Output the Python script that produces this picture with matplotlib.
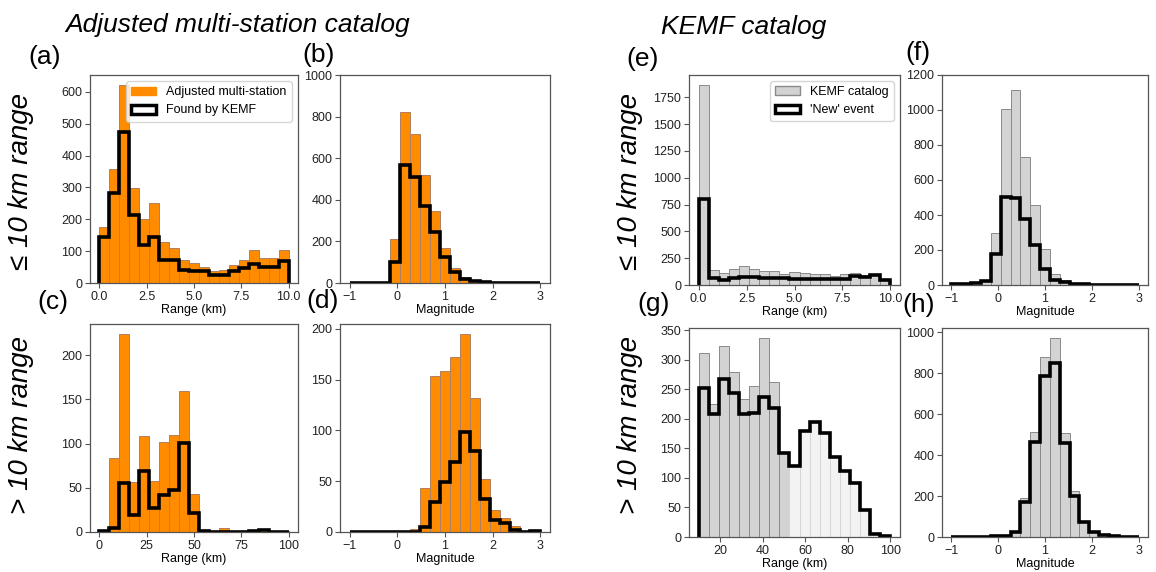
import numpy as np
import matplotlib.pyplot as plt
from matplotlib.patches import Patch
from matplotlib.ticker import MultipleLocator

plt.rcParams['font.family'] = ['Liberation Sans', 'DejaVu Sans']
plt.rcParams['font.size'] = 9

W, H = 1156, 572

# bin edges (19 bins each)
near_range_edges = np.linspace(0, 10, 20)
far_range_edges = np.linspace(0, 100, 20)
kemf_far_range_edges = np.linspace(10, 100, 20)
mag_edges = np.linspace(-1, 3, 20)

# adjusted multi-station catalog, <= 10 km
adj_near_range = [175, 357, 622, 297, 202, 250, 128, 110, 72, 62, 50, 37, 40, 58, 73, 105, 77, 78, 103]
adj_near_range_found = [145, 283, 473, 215, 118, 143, 72, 72, 40, 38, 38, 25, 25, 38, 48, 60, 50, 50, 70]
adj_near_mag = [0, 0, 0, 0, 210, 820, 718, 520, 345, 170, 70, 30, 12, 5, 3, 2, 1, 1, 0]
adj_near_mag_found = [0, 0, 0, 0, 100, 565, 512, 370, 243, 125, 55, 20, 8, 3, 2, 1, 1, 0, 0]

# adjusted multi-station catalog, > 10 km
adj_far_range = [1, 84, 224, 56, 108, 58, 102, 110, 159, 43, 1, 0, 4, 1, 0, 1, 2, 1, 1]
adj_far_range_found = [1, 4, 55, 19, 69, 27, 42, 48, 101, 21, 1, 0, 0, 0, 0, 1, 2, 0, 0]
adj_far_mag = [0, 0, 0, 0, 0, 0, 3, 43, 154, 158, 172, 195, 132, 52, 22, 14, 6, 1, 1]
adj_far_mag_found = [0, 0, 0, 0, 0, 0, 0, 5, 30, 49, 69, 98, 80, 32, 12, 9, 2, 0, 1]

# KEMF catalog, <= 10 km
kemf_near_range = [1865, 140, 112, 145, 175, 150, 135, 133, 105, 118, 112, 98, 100, 80, 103, 112, 95, 90, 55]
kemf_near_range_new = [800, 65, 50, 62, 70, 75, 68, 65, 65, 60, 60, 55, 55, 55, 60, 85, 75, 90, 45]
kemf_near_mag = [3, 5, 10, 25, 295, 1008, 1116, 730, 457, 204, 62, 30, 12, 8, 4, 3, 2, 2, 1]
kemf_near_mag_new = [3, 5, 10, 22, 180, 500, 497, 375, 230, 92, 30, 20, 8, 4, 2, 1, 1, 0, 0]

# KEMF catalog, > 10 km
kemf_far_range = [312, 225, 324, 279, 234, 255, 337, 263, 143, 120, 180, 194, 176, 136, 112, 91, 45, 5, 2]
kemf_far_range_new = [252, 208, 267, 243, 208, 210, 237, 218, 143, 120, 180, 194, 176, 136, 112, 91, 45, 5, 2]
kemf_far_mag = [1, 1, 1, 2, 5, 10, 28, 190, 515, 881, 972, 510, 223, 75, 30, 10, 5, 3, 2]
kemf_far_mag_new = [0, 0, 1, 1, 3, 5, 24, 171, 462, 787, 852, 460, 198, 72, 25, 8, 4, 2, 1]

ORANGE = '#ff8c00'
GRAY = '#d3d3d3'
PALE = '#f3f3f3'

fig = plt.figure(figsize=(W / 100, H / 100), dpi=100)


def px_axes(l, t, r, b):
    return fig.add_axes([l / W, 1 - b / H, (r - l) / W, (b - t) / H])


def px_text(x, y, s, **kw):
    fig.text(x / W, 1 - y / H, s, ha='center', va='center', **kw)


def draw(ax, edges, filled, outline, face, edge, xlabel):
    ax.bar(edges[:-1], filled, width=np.diff(edges), align='edge',
           color=face, edgecolor=edge, linewidth=0.7)
    ax.stairs(outline, edges, color='black', linewidth=2.6)
    ax.set_xlabel(xlabel, labelpad=1)
    for sp in ax.spines.values():
        sp.set_color('#555555')
        sp.set_linewidth(0.9)
    ax.tick_params(color='#555555', labelcolor='#222222', length=3.5, pad=2)


ax_a = px_axes(90, 75, 298, 283)
draw(ax_a, near_range_edges, adj_near_range, adj_near_range_found, ORANGE, '#b08060', 'Range (km)')
ax_a.legend(handles=[Patch(facecolor=ORANGE, edgecolor=ORANGE, label='Adjusted multi-station'),
                     Patch(facecolor='white', edgecolor='black', linewidth=2.5, label='Found by KEMF')],
            loc='upper right', fontsize=9)

ax_b = px_axes(340, 75, 550, 283)
draw(ax_b, mag_edges, adj_near_mag, adj_near_mag_found, ORANGE, '#b08060', 'Magnitude')
ax_b.set_ylim(0, 1000)
ax_b.yaxis.set_major_locator(MultipleLocator(200))

ax_c = px_axes(90, 324, 298, 532)
draw(ax_c, far_range_edges, adj_far_range, adj_far_range_found, ORANGE, '#b08060', 'Range (km)')
ax_c.yaxis.set_major_locator(MultipleLocator(50))

ax_d = px_axes(340, 324, 550, 532)
draw(ax_d, mag_edges, adj_far_mag, adj_far_mag_found, ORANGE, '#b08060', 'Magnitude')
ax_d.yaxis.set_major_locator(MultipleLocator(50))

ax_e = px_axes(689, 75, 900, 285)
draw(ax_e, near_range_edges, kemf_near_range, kemf_near_range_new, GRAY, '#8a8a8a', 'Range (km)')
ax_e.yaxis.set_major_locator(MultipleLocator(250))
ax_e.legend(handles=[Patch(facecolor=GRAY, edgecolor='#8a8a8a', label='KEMF catalog'),
                     Patch(facecolor='white', edgecolor='black', linewidth=2.5, label="'New' event")],
            loc='upper right', fontsize=9)

ax_f = px_axes(942, 75, 1148, 285)
draw(ax_f, mag_edges, kemf_near_mag, kemf_near_mag_new, GRAY, '#8a8a8a', 'Magnitude')
ax_f.set_ylim(0, 1200)
ax_f.yaxis.set_major_locator(MultipleLocator(200))

# beyond ~53 km the catalog bars are drawn pale
far_faces = [GRAY if e < 50 else PALE for e in kemf_far_range_edges[:-1]]
far_edges = ['#8a8a8a' if e < 50 else '#d6d6d6' for e in kemf_far_range_edges[:-1]]
ax_g = px_axes(689, 328, 900, 537)
draw(ax_g, kemf_far_range_edges, kemf_far_range, kemf_far_range_new, far_faces, far_edges, 'Range (km)')
ax_g.yaxis.set_major_locator(MultipleLocator(50))

ax_h = px_axes(942, 328, 1148, 537)
draw(ax_h, mag_edges, kemf_far_mag, kemf_far_mag_new, GRAY, '#8a8a8a', 'Magnitude')
ax_h.yaxis.set_major_locator(MultipleLocator(200))

# titles, row labels, panel letters
px_text(238, 25, 'Adjusted multi-station catalog', fontsize=19, style='italic')
px_text(744, 27, 'KEMF catalog', fontsize=19, style='italic')
for x in (21, 630):
    px_text(x, 182, '≤ 10 km range', fontsize=20, style='italic', rotation=90)
    px_text(x, 425, '> 10 km range', fontsize=20, style='italic', rotation=90)
for lab, x, y in [('(a)', 45, 57), ('(b)', 319, 55), ('(c)', 53, 302), ('(d)', 323, 301),
                  ('(e)', 643, 59), ('(f)', 918, 53), ('(g)', 654, 304), ('(h)', 919, 305)]:
    px_text(x, y, lab, fontsize=19)

fig.savefig('out.png', dpi=100)
